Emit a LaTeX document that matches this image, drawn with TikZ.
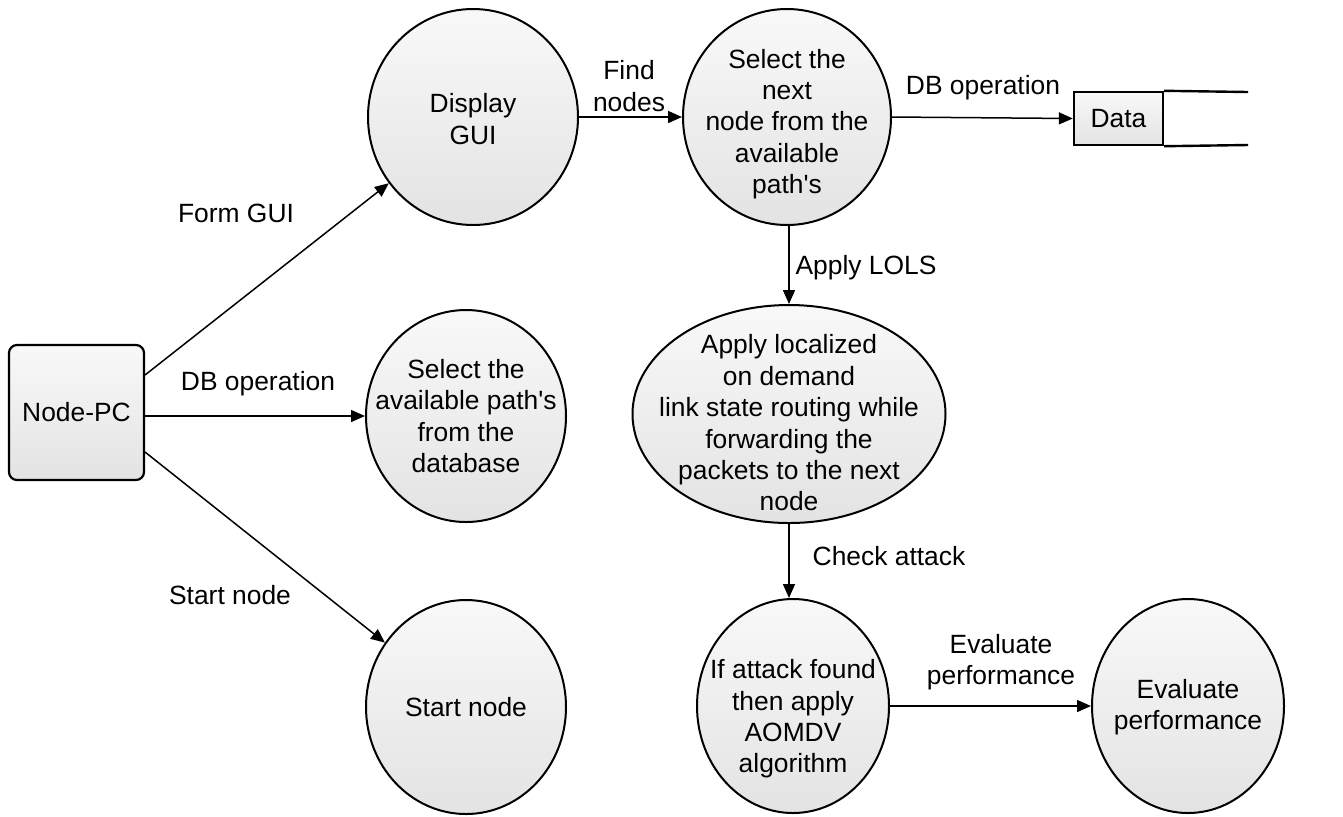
\documentclass[tikz,border=0pt]{standalone}
\usepackage{fontspec}
\setmainfont{Liberation Sans}
\usetikzlibrary{arrows.meta,shapes.geometric,calc}
\newcommand{\sq}{\textquotesingle}
\begin{document}
\begin{tikzpicture}[x=0.5pt,y=-0.5pt,
  font=\fontsize{13.2}{15.7}\selectfont,
  shade/.style={top color=gray!5, bottom color=gray!22},
  bubble/.style={ellipse, draw, line width=1pt, shade, inner sep=0pt},
  txt/.style={align=center, inner sep=0pt},
  arr/.style={line width=0.75pt, -{Triangle[length=7pt,width=6pt]}},
  lbl/.style={align=center, inner sep=0pt}]
\useasboundingbox (0,0) rectangle (1343,816);

% Node-PC box
\node[draw, line width=1.1pt, rounded corners=4pt, shade, minimum width=67.5pt, minimum height=67.5pt, inner sep=0pt] (pc) at (76.5,412.5) {Node-PC};

% bubbles
\node[bubble, minimum width=105pt, minimum height=108pt] (gui) at (473,117) {};
\node[txt] (guit) at (473,119) {Display\\GUI};

\node[bubble, minimum width=104pt, minimum height=108pt] (nxt) at (787,117) {};
\node[txt] (nxtt) at (787,124) {Select the\\next\\node from the\\available\\path\sq s};

\node[bubble, minimum width=100pt, minimum height=106pt] (avl) at (466,416) {};
\node[txt] (avlt) at (466,416) {Select the\\available path\sq s\\from the\\database};

\node[bubble, minimum width=100pt, minimum height=107pt] (st) at (466,707) {};
\node[txt] (stt) at (466,707) {Start node};

\node[bubble, minimum width=156.5pt, minimum height=109pt] (lols) at (789,414) {};
\node[txt] (lolst) at (789,423) {Apply localized\\on demand\\link state routing while\\forwarding the\\packets to the next\\node};

\node[bubble, minimum width=96pt, minimum height=107pt] (atk) at (793,706) {};
\node[txt] (atkt) at (793,719) {If attack found\\then apply\\AOMDV\\algorithm};

\node[bubble, minimum width=96pt, minimum height=107pt] (ev) at (1188,706) {};
\node[txt] (evt) at (1188,707) {Evaluate\\performance};

% Data store
\node[draw, line width=1.2pt, shade, minimum width=44.5pt, minimum height=26.5pt, inner sep=0pt] (data) at (1118.5,118.5) {Data};
\coordinate (dtop) at (1248,92);
\coordinate (dbot) at (1248,145);
\draw[line width=1.2pt] (data.north east) -- (dtop);
\draw[line width=1.2pt] (data.south east) -- (dbot);

% connectors
\coordinate (s1) at (145,375);
\coordinate (s3) at (145,452);
\draw[arr] (s1) -- (gui);
\draw[arr] (pc.east |- avl) -- (avl);
\draw[arr] (s3) -- (st);
\draw[arr] (gui) -- (nxt);
\draw[arr] (nxt.east) -- (data.west);
\draw[arr] (lols.north |- nxt.south) -- (lols.north);
\draw[arr] (lols.south) -- (lols.south |- atk.north);
\draw[arr] (atk) -- (ev);

% labels
\node[lbl] (l1) at (236,213) {Form GUI};
\node[lbl] (l2) at (258,384) {DB operation};
\node[lbl] (l3) at (230,595) {Start node};
\node[lbl] (l4) at (629,86) {Find\\nodes};
\node[lbl] (l5) at (983,88) {DB operation};
\node[lbl] (l6) at (866,268) {Apply LOLS};
\node[lbl] (l7) at (889,556) {Check attack};
\node[lbl] (l8) at (1001,662) {Evaluate\\performance};
\end{tikzpicture}
\end{document}
